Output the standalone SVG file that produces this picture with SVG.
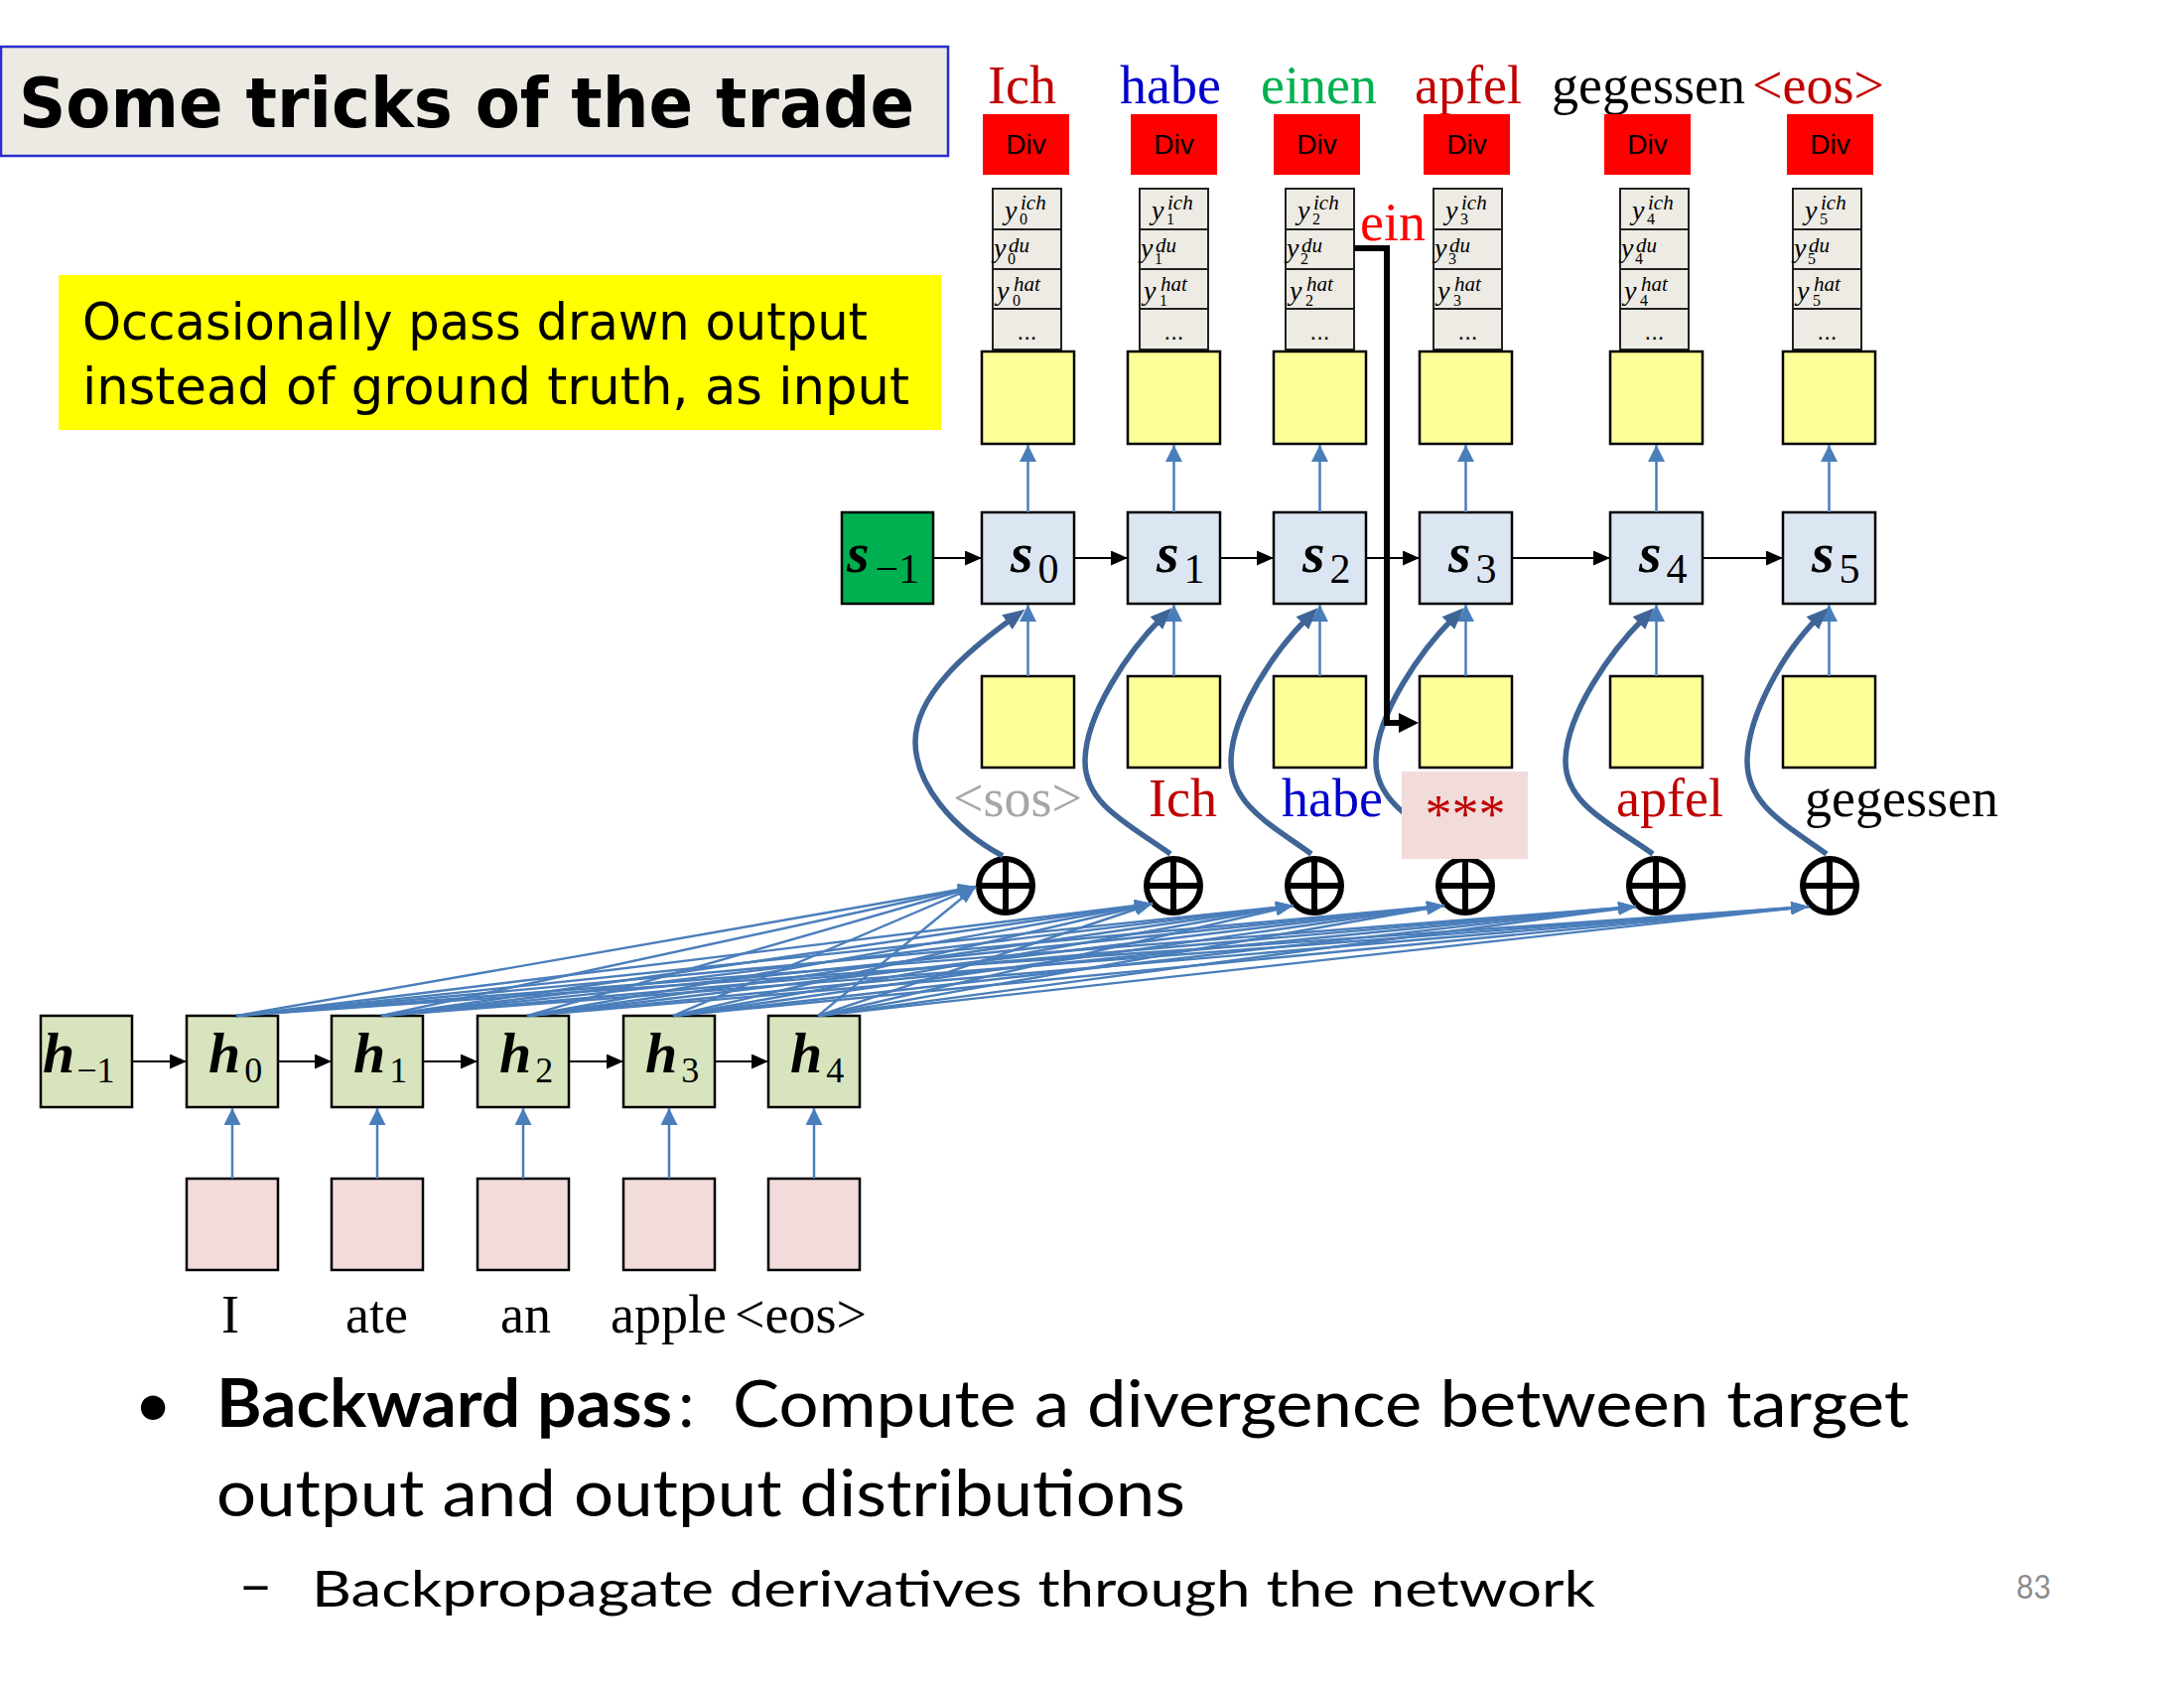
<svg xmlns="http://www.w3.org/2000/svg" width="2200" height="1700" viewBox="0 0 2200 1700">
<style>
.box{stroke:#000;stroke-width:2.5}
.yel{fill:#FFFF99}
.sbox{fill:#DCE6F2}
.hbox{fill:#D7E4BD}
.pink{fill:#F2DCDB}
.divb{fill:#FF0000}
.divt{font-family:"Liberation Sans",Arial,sans-serif;font-size:28px;fill:#000;text-anchor:middle}
.stk{fill:#EDEBE3;stroke:#222;stroke-width:2}
.w{font-family:"Liberation Serif","Times New Roman",serif;font-size:54px}
.yv{font-family:"Liberation Serif","Times New Roman",serif;font-style:italic;font-size:28px;fill:#000}
.sup{font-size:21px}
.sub{font-size:16px;font-style:normal}
.dots{font-family:"Liberation Sans",Arial,sans-serif;font-size:24px;text-anchor:middle}
.lab{font-family:"Liberation Serif","Times New Roman",serif;font-weight:bold;font-style:italic;font-size:58px;fill:#000}
.lsub{font-weight:normal;font-style:normal;font-size:42px}
.hsub{font-weight:normal;font-style:normal;font-size:36px}
.thin{stroke:#4A7EBB;stroke-width:2.5;fill:none}
.att{stroke:#4A7EBB;stroke-width:2.4;fill:none}
.blk{stroke:#000;stroke-width:2;fill:none}
.curve{stroke:#3F6596;stroke-width:5.5;fill:none}
.op{fill:#fff;stroke:#000;stroke-width:6}
.body{font-family:Lato,"Liberation Sans",sans-serif;fill:#000}
</style>
<defs>
<marker id="mBlk" markerUnits="userSpaceOnUse" markerWidth="17" markerHeight="15" refX="17" refY="7.5" orient="auto"><path d="M0,0 L17,7.5 L0,15 z" fill="#000"/></marker>
<marker id="mBlue" markerUnits="userSpaceOnUse" markerWidth="17" markerHeight="17" refX="17" refY="8.5" orient="auto"><path d="M0,0 L17,8.5 L0,17 z" fill="#4A7EBB"/></marker>
<marker id="mAtt" markerUnits="userSpaceOnUse" markerWidth="18" markerHeight="13" refX="18" refY="6.5" orient="auto"><path d="M0,0 L18,6.5 L0,13 z" fill="#4A7EBB"/></marker>
<marker id="mCurve" markerUnits="userSpaceOnUse" markerWidth="22" markerHeight="18" refX="8" refY="9" orient="auto"><path d="M0,0 L22,9 L0,18 z" fill="#3F6596"/></marker>
<marker id="mBig" markerUnits="userSpaceOnUse" markerWidth="20" markerHeight="20" refX="10" refY="10" orient="auto"><path d="M0,0 L20,10 L0,20 z" fill="#000"/></marker>
</defs>
<rect width="2200" height="1700" fill="#fff"/>

<g id="title">
<rect x="1" y="47" width="954" height="110" fill="#ECEAE2" stroke="#2B2BD0" stroke-width="2.5"/>
<text x="19" y="128" font-family="'DejaVu Sans',sans-serif" font-weight="bold" font-size="70" textLength="902" lengthAdjust="spacingAndGlyphs">Some tricks of the trade</text>
</g>
<g id="note">
<rect x="59" y="277" width="889" height="156" fill="#FFFF00"/>
<text x="83" y="342" font-family="'DejaVu Sans',sans-serif" font-size="52" textLength="791" lengthAdjust="spacingAndGlyphs">Occasionally pass drawn output</text>
<text x="83" y="407" font-family="'DejaVu Sans',sans-serif" font-size="52" textLength="833" lengthAdjust="spacingAndGlyphs">instead of ground truth, as input</text>
</g>

<g id="targets" class="w">
<text x="995" y="104" fill="#C00000">Ich</text>
<text x="1128" y="104" fill="#0000CC">habe</text>
<text x="1270" y="104" fill="#00B050">einen</text>
<text x="1425" y="104" fill="#C00000">apfel</text>
<text x="1563" y="104" fill="#000">gegessen</text>
<text x="1765" y="104" fill="#C00000">&lt;eos&gt;</text>
</g>

<g id="div0"><rect class="divb" x="990" y="115" width="87" height="61"/><text class="divt" x="1033.5" y="155">Div</text></g>
<g id="div1"><rect class="divb" x="1139" y="115" width="87" height="61"/><text class="divt" x="1182.5" y="155">Div</text></g>
<g id="div2"><rect class="divb" x="1283" y="115" width="87" height="61"/><text class="divt" x="1326.5" y="155">Div</text></g>
<g id="div3"><rect class="divb" x="1434" y="115" width="87" height="61"/><text class="divt" x="1477.5" y="155">Div</text></g>
<g id="div4"><rect class="divb" x="1616" y="115" width="87" height="61"/><text class="divt" x="1659.5" y="155">Div</text></g>
<g id="div5"><rect class="divb" x="1800" y="115" width="87" height="61"/><text class="divt" x="1843.5" y="155">Div</text></g>

<g id="y0">
<rect class="stk" x="1000" y="190" width="69" height="41"/><rect class="stk" x="1000" y="231" width="69" height="40"/><rect class="stk" x="1000" y="271" width="69" height="40"/><rect class="stk" x="1000" y="311" width="69" height="41"/>
<text class="yv" x="1012" y="221">y<tspan class="sup" x="1028" y="211">ich</tspan><tspan class="sub" x="1027" y="226">0</tspan></text>
<text class="yv" x="1001" y="259">y<tspan class="sup" x="1016" y="254">du</tspan><tspan class="sub" x="1015" y="266">0</tspan></text>
<text class="yv" x="1004" y="302">y<tspan class="sup" x="1021" y="293">hat</tspan><tspan class="sub" x="1020" y="308">0</tspan></text>
<text class="dots" x="1034.5" y="342">...</text>
</g>
<g id="y1">
<rect class="stk" x="1148" y="190" width="69" height="41"/><rect class="stk" x="1148" y="231" width="69" height="40"/><rect class="stk" x="1148" y="271" width="69" height="40"/><rect class="stk" x="1148" y="311" width="69" height="41"/>
<text class="yv" x="1160" y="221">y<tspan class="sup" x="1176" y="211">ich</tspan><tspan class="sub" x="1175" y="226">1</tspan></text>
<text class="yv" x="1149" y="259">y<tspan class="sup" x="1164" y="254">du</tspan><tspan class="sub" x="1163" y="266">1</tspan></text>
<text class="yv" x="1152" y="302">y<tspan class="sup" x="1169" y="293">hat</tspan><tspan class="sub" x="1168" y="308">1</tspan></text>
<text class="dots" x="1182.5" y="342">...</text>
</g>
<g id="y2">
<rect class="stk" x="1295" y="190" width="69" height="41"/><rect class="stk" x="1295" y="231" width="69" height="40"/><rect class="stk" x="1295" y="271" width="69" height="40"/><rect class="stk" x="1295" y="311" width="69" height="41"/>
<text class="yv" x="1307" y="221">y<tspan class="sup" x="1323" y="211">ich</tspan><tspan class="sub" x="1322" y="226">2</tspan></text>
<text class="yv" x="1296" y="259">y<tspan class="sup" x="1311" y="254">du</tspan><tspan class="sub" x="1310" y="266">2</tspan></text>
<text class="yv" x="1299" y="302">y<tspan class="sup" x="1316" y="293">hat</tspan><tspan class="sub" x="1315" y="308">2</tspan></text>
<text class="dots" x="1329.5" y="342">...</text>
</g>
<g id="y3">
<rect class="stk" x="1444" y="190" width="69" height="41"/><rect class="stk" x="1444" y="231" width="69" height="40"/><rect class="stk" x="1444" y="271" width="69" height="40"/><rect class="stk" x="1444" y="311" width="69" height="41"/>
<text class="yv" x="1456" y="221">y<tspan class="sup" x="1472" y="211">ich</tspan><tspan class="sub" x="1471" y="226">3</tspan></text>
<text class="yv" x="1445" y="259">y<tspan class="sup" x="1460" y="254">du</tspan><tspan class="sub" x="1459" y="266">3</tspan></text>
<text class="yv" x="1448" y="302">y<tspan class="sup" x="1465" y="293">hat</tspan><tspan class="sub" x="1464" y="308">3</tspan></text>
<text class="dots" x="1478.5" y="342">...</text>
</g>
<g id="y4">
<rect class="stk" x="1632" y="190" width="69" height="41"/><rect class="stk" x="1632" y="231" width="69" height="40"/><rect class="stk" x="1632" y="271" width="69" height="40"/><rect class="stk" x="1632" y="311" width="69" height="41"/>
<text class="yv" x="1644" y="221">y<tspan class="sup" x="1660" y="211">ich</tspan><tspan class="sub" x="1659" y="226">4</tspan></text>
<text class="yv" x="1633" y="259">y<tspan class="sup" x="1648" y="254">du</tspan><tspan class="sub" x="1647" y="266">4</tspan></text>
<text class="yv" x="1636" y="302">y<tspan class="sup" x="1653" y="293">hat</tspan><tspan class="sub" x="1652" y="308">4</tspan></text>
<text class="dots" x="1666.5" y="342">...</text>
</g>
<g id="y5">
<rect class="stk" x="1806" y="190" width="69" height="41"/><rect class="stk" x="1806" y="231" width="69" height="40"/><rect class="stk" x="1806" y="271" width="69" height="40"/><rect class="stk" x="1806" y="311" width="69" height="41"/>
<text class="yv" x="1818" y="221">y<tspan class="sup" x="1834" y="211">ich</tspan><tspan class="sub" x="1833" y="226">5</tspan></text>
<text class="yv" x="1807" y="259">y<tspan class="sup" x="1822" y="254">du</tspan><tspan class="sub" x="1821" y="266">5</tspan></text>
<text class="yv" x="1810" y="302">y<tspan class="sup" x="1827" y="293">hat</tspan><tspan class="sub" x="1826" y="308">5</tspan></text>
<text class="dots" x="1840.5" y="342">...</text>
</g>

<g id="ein"><text class="w" x="1370" y="242" fill="#FF0000">ein</text></g>

<g id="out0"><rect class="box yel" x="989" y="354" width="93" height="93"/></g>
<g id="out1"><rect class="box yel" x="1136" y="354" width="93" height="93"/></g>
<g id="out2"><rect class="box yel" x="1283" y="354" width="93" height="93"/></g>
<g id="out3"><rect class="box yel" x="1430" y="354" width="93" height="93"/></g>
<g id="out4"><rect class="box yel" x="1622" y="354" width="93" height="93"/></g>
<g id="out5"><rect class="box yel" x="1796" y="354" width="93" height="93"/></g>

<g id="sm1"><rect class="box" fill="#00B050" x="848" y="516" width="92" height="92"/><text class="lab" x="853" y="576">s<tspan class="lsub" dx="6" dy="11">−1</tspan></text></g>
<g id="s0"><rect class="box sbox" x="989" y="516" width="93" height="92"/><text class="lab" x="1018" y="576">s<tspan class="lsub" dx="5" dy="11">0</tspan></text></g>
<g id="s1"><rect class="box sbox" x="1136" y="516" width="93" height="92"/><text class="lab" x="1165" y="576">s<tspan class="lsub" dx="5" dy="11">1</tspan></text></g>
<g id="s2"><rect class="box sbox" x="1283" y="516" width="93" height="92"/><text class="lab" x="1312" y="576">s<tspan class="lsub" dx="5" dy="11">2</tspan></text></g>
<g id="s3"><rect class="box sbox" x="1430" y="516" width="93" height="92"/><text class="lab" x="1459" y="576">s<tspan class="lsub" dx="5" dy="11">3</tspan></text></g>
<g id="s4"><rect class="box sbox" x="1622" y="516" width="93" height="92"/><text class="lab" x="1651" y="576">s<tspan class="lsub" dx="5" dy="11">4</tspan></text></g>
<g id="s5"><rect class="box sbox" x="1796" y="516" width="93" height="92"/><text class="lab" x="1825" y="576">s<tspan class="lsub" dx="5" dy="11">5</tspan></text></g>

<g id="in0"><rect class="box yel" x="989" y="681" width="93" height="92"/></g>
<g id="in1"><rect class="box yel" x="1136" y="681" width="93" height="92"/></g>
<g id="in2"><rect class="box yel" x="1283" y="681" width="93" height="92"/></g>
<g id="in3"><rect class="box yel" x="1430" y="681" width="93" height="92"/></g>
<g id="in4"><rect class="box yel" x="1622" y="681" width="93" height="92"/></g>
<g id="in5"><rect class="box yel" x="1796" y="681" width="93" height="92"/></g>

<g id="inlabels" class="w">
<text x="960" y="822" fill="#A6A6A6">&lt;sos&gt;</text>
<text x="1157" y="822" fill="#C00000">Ich</text>
<text x="1291" y="822" fill="#0000CC">habe</text>
<text x="1628" y="822" fill="#C00000">apfel</text>
<text x="1818" y="822" fill="#000">gegessen</text>
</g>

<g id="op0"><circle class="op" cx="1013" cy="892" r="27"/><path d="M986,892 H1040 M1013,865 V919" stroke="#000" stroke-width="6"/></g>
<g id="op1"><circle class="op" cx="1182" cy="892" r="27"/><path d="M1155,892 H1209 M1182,865 V919" stroke="#000" stroke-width="6"/></g>
<g id="op2"><circle class="op" cx="1324" cy="892" r="27"/><path d="M1297,892 H1351 M1324,865 V919" stroke="#000" stroke-width="6"/></g>
<g id="op3"><circle class="op" cx="1476" cy="892" r="27"/><path d="M1449,892 H1503 M1476,865 V919" stroke="#000" stroke-width="6"/></g>
<g id="op4"><circle class="op" cx="1668" cy="892" r="27"/><path d="M1641,892 H1695 M1668,865 V919" stroke="#000" stroke-width="6"/></g>
<g id="op5"><circle class="op" cx="1843" cy="892" r="27"/><path d="M1816,892 H1870 M1843,865 V919" stroke="#000" stroke-width="6"/></g>

<g id="hm1"><rect class="box hbox" x="41" y="1023" width="92" height="92"/><text class="lab" x="43" y="1080">h<tspan class="hsub" dx="2" dy="10">−1</tspan></text></g>
<g id="h0"><rect class="box hbox" x="188" y="1023" width="92" height="92"/><text class="lab" x="210" y="1080">h<tspan class="hsub" dx="4" dy="10">0</tspan></text></g>
<g id="h1"><rect class="box hbox" x="334" y="1023" width="92" height="92"/><text class="lab" x="356" y="1080">h<tspan class="hsub" dx="4" dy="10">1</tspan></text></g>
<g id="h2"><rect class="box hbox" x="481" y="1023" width="92" height="92"/><text class="lab" x="503" y="1080">h<tspan class="hsub" dx="4" dy="10">2</tspan></text></g>
<g id="h3"><rect class="box hbox" x="628" y="1023" width="92" height="92"/><text class="lab" x="650" y="1080">h<tspan class="hsub" dx="4" dy="10">3</tspan></text></g>
<g id="h4"><rect class="box hbox" x="774" y="1023" width="92" height="92"/><text class="lab" x="796" y="1080">h<tspan class="hsub" dx="4" dy="10">4</tspan></text></g>

<g id="x0"><rect class="box pink" x="188" y="1187" width="92" height="92"/></g>
<g id="x1"><rect class="box pink" x="334" y="1187" width="92" height="92"/></g>
<g id="x2"><rect class="box pink" x="481" y="1187" width="92" height="92"/></g>
<g id="x3"><rect class="box pink" x="628" y="1187" width="92" height="92"/></g>
<g id="x4"><rect class="box pink" x="774" y="1187" width="92" height="92"/></g>

<g id="srcwords" class="w" fill="#000">
<text x="223" y="1342">I</text>
<text x="348" y="1342">ate</text>
<text x="504" y="1342">an</text>
<text x="615" y="1342">apple</text>
<text x="740" y="1342">&lt;eos&gt;</text>
</g>

<g id="connectors">
<g class="blk" marker-end="url(#mBlk)">
<line x1="940" y1="562" x2="989" y2="562"/>
<line x1="1082" y1="562" x2="1136" y2="562"/>
<line x1="1229" y1="562" x2="1283" y2="562"/>
<line x1="1376" y1="562" x2="1430" y2="562"/>
<line x1="1523" y1="562" x2="1622" y2="562"/>
<line x1="1715" y1="562" x2="1796" y2="562"/>
<line x1="133" y1="1069" x2="188" y2="1069"/>
<line x1="280" y1="1069" x2="334" y2="1069"/>
<line x1="426" y1="1069" x2="481" y2="1069"/>
<line x1="573" y1="1069" x2="628" y2="1069"/>
<line x1="720" y1="1069" x2="774" y2="1069"/>
</g>
<g class="thin" marker-end="url(#mBlue)">
<line x1="1035.5" y1="516" x2="1035.5" y2="448"/>
<line x1="1182.5" y1="516" x2="1182.5" y2="448"/>
<line x1="1329.5" y1="516" x2="1329.5" y2="448"/>
<line x1="1476.5" y1="516" x2="1476.5" y2="448"/>
<line x1="1668.5" y1="516" x2="1668.5" y2="448"/>
<line x1="1842.5" y1="516" x2="1842.5" y2="448"/>
<line x1="1035.5" y1="681" x2="1035.5" y2="609"/>
<line x1="1182.5" y1="681" x2="1182.5" y2="609"/>
<line x1="1329.5" y1="681" x2="1329.5" y2="609"/>
<line x1="1476.5" y1="681" x2="1476.5" y2="609"/>
<line x1="1668.5" y1="681" x2="1668.5" y2="609"/>
<line x1="1842.5" y1="681" x2="1842.5" y2="609"/>
<line x1="234" y1="1187" x2="234" y2="1116"/>
<line x1="380" y1="1187" x2="380" y2="1116"/>
<line x1="527" y1="1187" x2="527" y2="1116"/>
<line x1="674" y1="1187" x2="674" y2="1116"/>
<line x1="820" y1="1187" x2="820" y2="1116"/>
</g>
<g class="att" marker-end="url(#mAtt)">
<line x1="238" y1="1023" x2="983" y2="893"/><line x1="384" y1="1023" x2="983" y2="893"/><line x1="531" y1="1023" x2="983" y2="893"/><line x1="678" y1="1023" x2="983" y2="893"/><line x1="824" y1="1023" x2="983" y2="893"/>
<line x1="238" y1="1023" x2="1161" y2="910"/><line x1="384" y1="1023" x2="1161" y2="910"/><line x1="531" y1="1023" x2="1161" y2="910"/><line x1="678" y1="1023" x2="1161" y2="910"/><line x1="824" y1="1023" x2="1161" y2="910"/>
<line x1="238" y1="1023" x2="1303" y2="912"/><line x1="384" y1="1023" x2="1303" y2="912"/><line x1="531" y1="1023" x2="1303" y2="912"/><line x1="678" y1="1023" x2="1303" y2="912"/><line x1="824" y1="1023" x2="1303" y2="912"/>
<line x1="238" y1="1023" x2="1455" y2="912"/><line x1="384" y1="1023" x2="1455" y2="912"/><line x1="531" y1="1023" x2="1455" y2="912"/><line x1="678" y1="1023" x2="1455" y2="912"/><line x1="824" y1="1023" x2="1455" y2="912"/>
<line x1="238" y1="1023" x2="1648" y2="913"/><line x1="384" y1="1023" x2="1648" y2="913"/><line x1="531" y1="1023" x2="1648" y2="913"/><line x1="678" y1="1023" x2="1648" y2="913"/><line x1="824" y1="1023" x2="1648" y2="913"/>
<line x1="238" y1="1023" x2="1822" y2="913"/><line x1="384" y1="1023" x2="1822" y2="913"/><line x1="531" y1="1023" x2="1822" y2="913"/><line x1="678" y1="1023" x2="1822" y2="913"/><line x1="824" y1="1023" x2="1822" y2="913"/>
</g>
<g class="curve" marker-end="url(#mCurve)">
<path d="M1010,862 C960,835 922,790 922,747 C922,700 975,655 1021,622"/>
<path d="M1179,860 C1137,830 1093,810 1093,767 C1093,720 1137,655 1170.5,622"/>
<path d="M1321,860 C1279,830 1240,810 1240,767 C1240,720 1284,655 1317.5,622"/>
<path d="M1473,860 C1431,830 1386,810 1386,767 C1386,720 1431,655 1464.5,622"/>
<path d="M1665,860 C1623,830 1577,810 1577,767 C1577,720 1623,655 1656.5,622"/>
<path d="M1840,860 C1798,830 1760,810 1760,767 C1760,720 1798,655 1831.5,622"/>
</g>
<path d="M1364,250 H1397 V728 H1419" fill="none" stroke="#000" stroke-width="6" marker-end="url(#mBig)"/>
</g>

<g id="drawn">
<rect x="1412" y="777" width="127" height="88" fill="#F2DCDB"/>
<text class="w" x="1476" y="838" fill="#C00000" text-anchor="middle">***</text>
</g>

<g id="bullets">
<text class="body" x="135" y="1437" font-size="66">•</text>
<text class="body" x="218" y="1437" font-size="66" font-weight="bold" textLength="459" lengthAdjust="spacingAndGlyphs">Backward pass</text>
<text class="body" x="683" y="1437" font-size="66">:</text>
<text class="body" x="738" y="1437" font-size="66" textLength="1185" lengthAdjust="spacingAndGlyphs">Compute a divergence between target</text>
<text class="body" x="218" y="1527" font-size="66" textLength="976" lengthAdjust="spacingAndGlyphs">output and output distributions</text>
<text class="body" x="240" y="1616" font-size="56" textLength="35" lengthAdjust="spacingAndGlyphs">–</text>
<text class="body" x="314" y="1618" font-size="50" textLength="1293" lengthAdjust="spacingAndGlyphs">Backpropagate derivatives through the network</text>
<text class="body" x="2031" y="1610" font-size="32" style="fill:#8C8C8C" textLength="35" lengthAdjust="spacingAndGlyphs">83</text>
</g>
</svg>
